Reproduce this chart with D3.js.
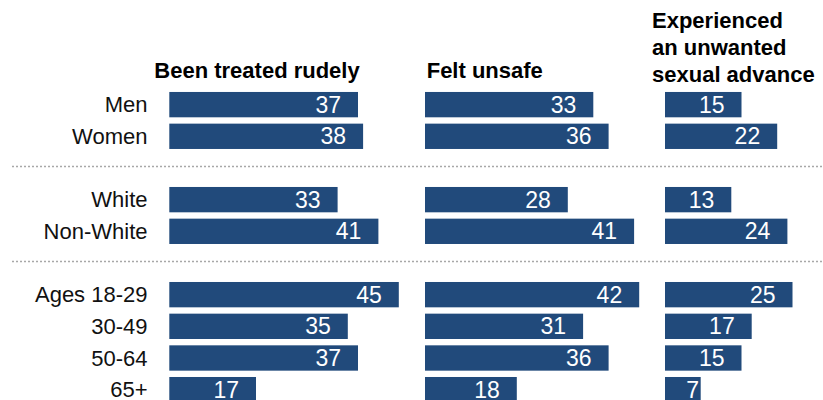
<!DOCTYPE html>
<html>
<head>
<meta charset="utf-8">
<script src="https://cdn.jsdelivr.net/npm/d3@7"></script>
<style>
	body { margin: 0; background: #fff; }
	svg { display: block; font-family: "Liberation Sans", Arial, sans-serif; }
</style>
</head>
<body>
<svg></svg>
<script>
const width = 823;
const height = 400;

// rows, with blanks for the gaps that hold the dotted separators
const rows = ['Men', 'Women', '', 'White', 'Non-White', ' ', 'Ages 18-29', '30-49', '50-64', '65+'];
const titles = [
	['Been treated rudely'],
	['Felt unsafe'],
	['Experienced', 'an unwanted', 'sexual advance']
];
const rudely = [37, 38, null, 33, 41, null, 45, 35, 37, 17];
const unsafe = [33, 36, null, 28, 41, null, 42, 31, 36, 18];
const advance = [15, 22, null, 13, 24, null, 25, 17, 15, 7];
const series = [rudely, unsafe, advance];

const panelX = [169.3, 425, 665];
const titleX = [154.3, 426.7, 652];

const svg = d3.select('svg')
	.attr('width', width)
	.attr('height', height);

const y = d3.scaleBand()
	.domain(rows)
	.range([88.8, 405.5])
	.paddingInner(0.2)
	.paddingOuter(0.1);

const x = d3.scaleLinear()
	.domain([0, 50])
	.range([0, 255]);

// dotted separators
svg.selectAll('line.sep')
	.data(rows.filter(r => r.trim() === ''))
	.enter()
	.append('line')
	.attr('class', 'sep')
	.attr('x1', 12)
	.attr('x2', width)
	.attr('y1', d => y(d) + y.bandwidth() / 2 - 1.5)
	.attr('y2', d => y(d) + y.bandwidth() / 2 - 1.5)
	.attr('stroke', '#a8a8a8')
	.attr('stroke-width', 1.5)
	.attr('stroke-dasharray', '2,2');

// row labels
svg.selectAll('text.row')
	.data(rows.filter(r => r.trim() !== ''))
	.enter()
	.append('text')
	.attr('class', 'row')
	.attr('x', 147.5)
	.attr('y', d => y(d) + y.bandwidth() / 2)
	.attr('dy', '0.35em')
	.attr('text-anchor', 'end')
	.attr('font-size', 22)
	.attr('fill', '#111')
	.text(d => d);

series.forEach((values, i) => {
	const g = svg.append('g')
		.attr('transform', `translate(${panelX[i]},0)`);

	const lines = titles[i];
	const titleBottom = lines.length > 1 ? 81.5 : 77.8;
	const title = svg.append('text')
		.attr('x', titleX[i])
		.attr('y', titleBottom - (lines.length - 1) * 26.6)
		.attr('font-size', 22)
		.attr('font-weight', 'bold')
		.attr('fill', '#000');
	title.selectAll('tspan')
		.data(lines)
		.enter()
		.append('tspan')
		.attr('x', titleX[i])
		.attr('dy', (d, j) => j === 0 ? 0 : 26.6)
		.text(d => d);

	const data = rows.map((r, j) => ({ row: r, value: values[j] }))
		.filter(d => d.value !== null);

	g.selectAll('rect')
		.data(data)
		.enter()
		.append('rect')
		.attr('x', x(0))
		.attr('y', d => y(d.row))
		.attr('width', d => x(d.value))
		.attr('height', y.bandwidth())
		.attr('fill', '#214a7b');

	g.selectAll('text.val')
		.data(data)
		.enter()
		.append('text')
		.attr('class', 'val')
		.attr('x', d => Math.max(x(d.value) - 17, x(0) + 34))
		.attr('y', d => y(d.row) + y.bandwidth() / 2)
		.attr('dy', '0.35em')
		.attr('text-anchor', 'end')
		.attr('font-size', 23)
		.attr('fill', '#fff')
		.text(d => d.value);
});
</script>
</body>
</html>
